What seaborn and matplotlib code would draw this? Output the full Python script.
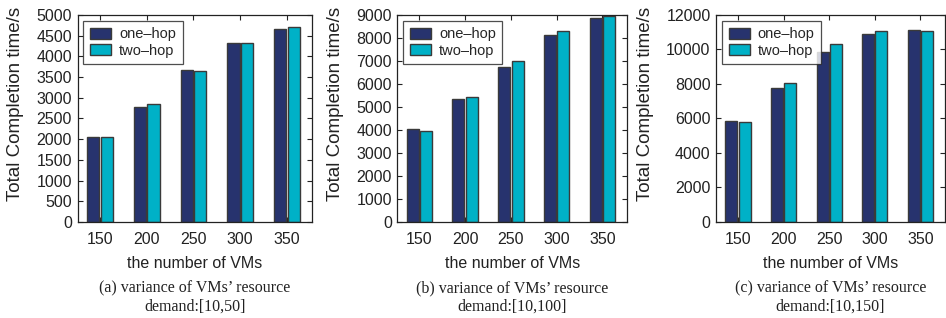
import pandas as pd
import numpy as np
import matplotlib
matplotlib.use('Agg')
import matplotlib.pyplot as plt
import seaborn as sns

vms = ['150', '200', '250', '300', '350']
series = ['one\u2013hop', 'two\u2013hop']

one_hop_a = [2060, 2780, 3680, 4320, 4660]
two_hop_a = [2060, 2850, 3650, 4320, 4700]
one_hop_b = [4060, 5330, 6720, 8140, 8870]
two_hop_b = [3940, 5430, 6980, 8290, 8940]
one_hop_c = [5870, 7770, 9850, 10920, 11130]
two_hop_c = [5800, 8040, 10300, 11070, 11050]

ymax = [5000, 9000, 12000]
ystep = [500, 1000, 2000]
captions = ["(a) variance of VMs\u2019 resource\ndemand:[10,50]",
            "(b) variance of VMs\u2019 resource\ndemand:[10,100]",
            "(c) variance of VMs\u2019 resource\ndemand:[10,150]"]

panels = [(one_hop_a, two_hop_a), (one_hop_b, two_hop_b), (one_hop_c, two_hop_c)]
palette = {series[0]: '#27336e', series[1]: '#00b1c7'}

sns.set_style('ticks')
plt.rcParams['font.family'] = ['Liberation Sans', 'DejaVu Sans']

fig = plt.figure(figsize=(9.46, 3.18), dpi=100)
lefts = [0.082, 0.42, 0.757]
widths = [0.248, 0.243, 0.242]

for i, (one, two) in enumerate(panels):
    ax = fig.add_axes([lefts[i], 0.302, widths[i], 0.651])
    df = pd.DataFrame({
        'VMs': vms * 2,
        'time': one + two,
        'method': [series[0]] * 5 + [series[1]] * 5,
    })
    sns.barplot(data=df, x='VMs', y='time', hue='method', palette=palette,
                width=0.58, gap=0.1, edgecolor='#3a3a3a', linewidth=1.0,
                saturation=1, ax=ax)
    ax.set_ylim(0, ymax[i])
    ax.set_yticks(np.arange(0, ymax[i] + 1, ystep[i]))
    ax.set_xlim(-0.48, 4.54)
    ax.tick_params(direction='in', top=True, right=True, length=3.5, width=0.8,
                   labelsize=11.5, colors='#222222')
    ax.tick_params(axis='x', pad=7)
    ax.tick_params(axis='y', pad=4)
    for s in ax.spines.values():
        s.set_visible(True)
        s.set_linewidth(0.9)
        s.set_color('#222222')
    ax.set_xlabel('the number of VMs', fontsize=11.5, color='#222222', labelpad=7)
    ax.set_ylabel('Total Completion time/s', fontsize=13.5, color='#222222', labelpad=9)
    ax.yaxis.label.set_y(0.57)
    leg = ax.legend(loc='upper left', bbox_to_anchor=(0.0, 1.0), fontsize=10.5,
                    frameon=True, fancybox=False, edgecolor='#222222',
                    handlelength=1.45, handleheight=0.75, borderpad=0.45,
                    labelspacing=0.15, handletextpad=0.55, borderaxespad=0.4)
    leg.get_frame().set_linewidth(0.9)
    fig.text(lefts[i] + widths[i] / 2, 0.012, captions[i], ha='center', va='bottom',
             family='Liberation Serif', fontsize=11.5, color='#222222', linespacing=1.15)

plt.savefig('out.png', dpi=100)
